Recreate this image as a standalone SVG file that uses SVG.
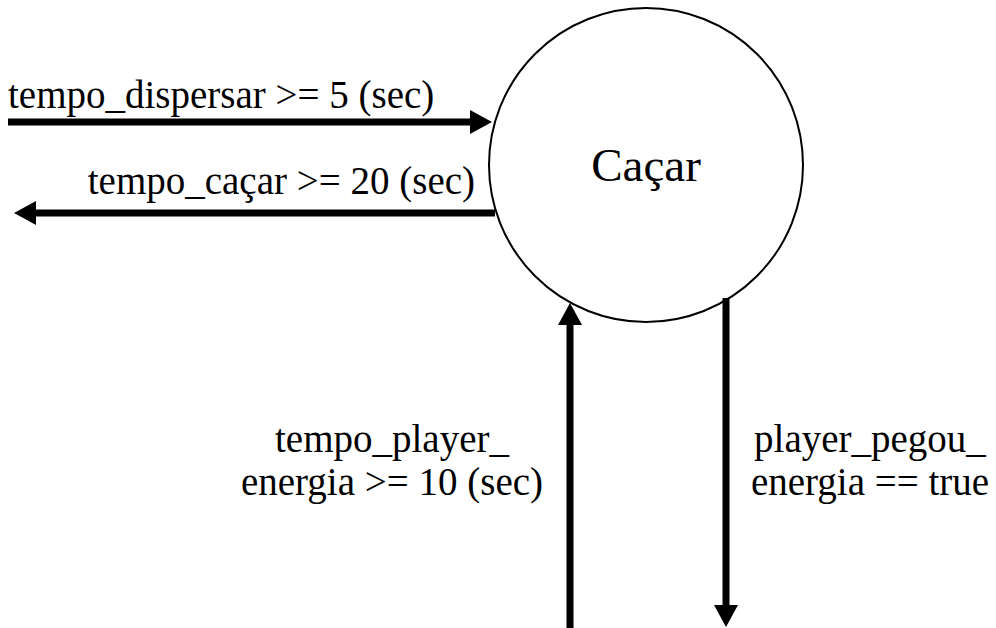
<svg xmlns="http://www.w3.org/2000/svg" width="996" height="628" viewBox="0 0 996 628">
  <style>
    .lbl { font-family: "Liberation Serif", "Times New Roman", serif; font-size: 39px; fill: #000; }
    .node-text { font-family: "Liberation Serif", "Times New Roman", serif; font-size: 47px; fill: #000; }
    .conn { stroke: #000; stroke-width: 7; fill: none; marker-end: url(#arrow); }
  </style>
  <defs>
    <marker id="arrow" markerUnits="userSpaceOnUse" viewBox="0 0 22 24" markerWidth="22" markerHeight="24" refX="1" refY="12" orient="auto">
      <path d="M0,0 L22,12 L0,24 Z" fill="#000"/>
    </marker>
  </defs>
  <rect width="996" height="628" fill="#fff"/>

  <g id="node-cacar">
    <circle cx="646" cy="165" r="157" fill="#fff" stroke="#000" stroke-width="2"/>
    <text class="node-text" x="646" y="181" text-anchor="middle">Caçar</text>
  </g>

  <g id="connectors">
    <line class="conn" x1="8" y1="122" x2="471" y2="122"/>
    <line class="conn" x1="495" y1="213" x2="35" y2="213"/>
    <line class="conn" x1="570" y1="628" x2="570" y2="324"/>
    <line class="conn" x1="726" y1="298" x2="726" y2="606"/>
  </g>

  <g id="labels">
    <text class="lbl" x="8" y="108">tempo_dispersar &gt;= 5 (sec)</text>
    <text class="lbl" x="475" y="194" text-anchor="end">tempo_caçar &gt;= 20 (sec)</text>
    <text class="lbl" x="392" y="452" text-anchor="middle">tempo_player_</text>
    <text class="lbl" x="392" y="495" text-anchor="middle">energia &gt;= 10 (sec)</text>
    <text class="lbl" x="870" y="452" text-anchor="middle">player_pegou_</text>
    <text class="lbl" x="870" y="495" text-anchor="middle">energia == true</text>
  </g>
</svg>
